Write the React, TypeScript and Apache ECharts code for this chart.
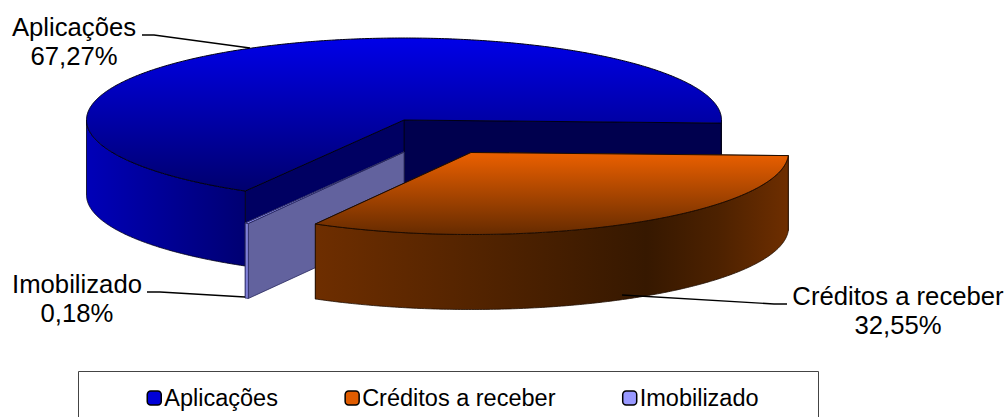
import React, { useEffect, useRef } from "react";
import * as echarts from "echarts";

const categories = ["Aplicações", "Créditos a receber", "Imobilizado"];
const shares = [67.27, 32.55, 0.18];

const FIRST_ANGLE = 120;
const RX = 317.5;
const RY = 82;
const DEPTH = 75;
const FONT = '"Liberation Sans", Arial, sans-serif';

// Drawing geometry and paint, per slice
const centers = [
  { x: 404, y: 120 },
  { x: 471, y: 152.5 },
  { x: 404, y: 152 },
];
const layers = [2, 4, 3];
const v = (c0: string, c1: string) => new echarts.graphic.LinearGradient(0, 0, 0, 1, [
  { offset: 0, color: c0 }, { offset: 1, color: c1 },
]);
const h = (stops: [number, string][]) => new echarts.graphic.LinearGradient(0, 0, 1, 0, stops.map(([offset, color]) => ({ offset, color })));
const paints = [
  {
    top: v("#0000E8", "#00006E"),
    wall: h([[0, "#0000B8"], [1, "#000072"]]),
    startFace: "#000062",
    endFace: "#00004E",
    line: "#000014",
  },
  {
    top: v("#EC6000", "#662B00"),
    wall: h([[0, "#6E2E00"], [0.45, "#4A2000"], [0.7, "#361800"], [0.85, "#4C2100"], [1, "#6E2E00"]]),
    startFace: "#3A1A00",
    endFace: "#3A1A00",
    line: "#1E0C00",
  },
  {
    top: "#9999FF",
    wall: "#8080D8",
    startFace: "#62629E",
    endFace: "#62629E",
    line: "#2A2A60",
  },
];
const legendColors = ["#0000D8", "#E05C00", "#9999FF"];
const labelSpots = [
  { x: 74, y1: 27, y2: 56 },
  { x: 898, y1: 296, y2: 325 },
  { x: 77, y1: 284, y2: 313 },
];
const leaders = [
  [[142, 35], [154, 35], [250, 48]],
  [[787, 304], [774, 304], [622, 295]],
  [[147, 292], [160, 292], [245, 297]],
];

const total = shares.reduce((a, b) => a + b, 0);
const rad = (d: number) => (d * Math.PI) / 180;

function sliceAngles(index: number) {
  let a = FIRST_ANGLE;
  for (let i = 0; i < index; i++) a += (shares[i] / total) * 360;
  return [a, a + (shares[index] / total) * 360];
}

function rim(c: { x: number; y: number }, deg: number, drop = 0) {
  return [c.x + RX * Math.cos(rad(deg)), c.y + RY * Math.sin(rad(deg)) + drop];
}

function arcPoints(c: { x: number; y: number }, a0: number, a1: number, drop = 0) {
  const n = Math.max(2, Math.ceil((a1 - a0) * 2));
  const pts: number[][] = [];
  for (let i = 0; i <= n; i++) pts.push(rim(c, a0 + ((a1 - a0) * i) / n, drop));
  return pts;
}

function makeRenderItem(index: number) {
  return (_params: any, api: any) => {
    const value = api.value(0) as number;
    const [a0, a1] = sliceAngles(index);
    const c = centers[index];
    const p = paints[index];
    const children: any[] = [];
    const poly = (points: number[][], fill: any, lineWidth = 0.8) => ({
      type: "polygon",
      shape: { points },
      style: { fill, stroke: p.line, lineWidth },
    });
    const face = (deg: number, fill: any) => {
      const r = rim(c, deg);
      return poly([[c.x, c.y], r, [r[0], r[1] + DEPTH], [c.x, c.y + DEPTH]], fill);
    };
    children.push(face(a1, p.endFace));
    children.push(face(a0, p.startFace));
    // Outer wall: only where the rim faces the viewer
    const visible: [number, number][] = [];
    for (const k of [0, 360]) {
      const s = Math.max(a0, k);
      const e = Math.min(a1, k + 180);
      if (e > s) visible.push([s, e]);
    }
    for (const [s, e] of visible) {
      const upper = arcPoints(c, s, e);
      const lower = arcPoints(c, s, e, DEPTH).reverse();
      children.push(poly([...upper, ...lower], p.wall));
    }
    children.push(poly([[c.x, c.y], ...arcPoints(c, a0, a1)], p.top, 1));
    children.push({
      type: "polyline",
      shape: { points: leaders[index] },
      style: { fill: "none", stroke: "#000", lineWidth: 1.4 },
    });
    const spot = labelSpots[index];
    const base = {
      x: spot.x,
      font: `25.7px ${FONT}`,
      fill: "#000",
      align: "center",
      verticalAlign: "middle",
    };
    children.push({ type: "text", style: { ...base, y: spot.y1, text: categories[index] } });
    children.push({
      type: "text",
      style: { ...base, y: spot.y2, text: `${value.toFixed(2).replace(".", ",")}%` },
    });
    return { type: "group", children };
  };
}

export default function App() {
  const ref = useRef<HTMLDivElement>(null);
  useEffect(() => {
    document.body.style.margin = "0";
    document.body.style.background = "#fff";
    document.body.style.overflow = "hidden";
    const chart = echarts.init(ref.current!, null, { renderer: "svg" });
    chart.setOption({
      animation: false,
      backgroundColor: "#fff",
      tooltip: { show: false },
      legend: {
        data: categories,
        left: 146.5,
        top: 386,
        padding: 0,
        orient: "horizontal",
        icon: "roundRect",
        itemWidth: 14,
        itemHeight: 14,
        itemGap: 66.5,
        selectedMode: false,
        itemStyle: { borderColor: "#000", borderWidth: 1.5 },
        textStyle: { fontFamily: FONT, fontSize: 23.5, color: "#000", padding: [0, 0, 0, -2] },
      },
      graphic: [
        {
          type: "rect",
          silent: true,
          shape: { x: 78.5, y: 371.5, width: 740, height: 60 },
          style: { fill: "none", stroke: "#444", lineWidth: 1 },
        },
      ],
      series: categories.map((name, i) => ({
        type: "custom",
        name,
        coordinateSystem: "none",
        z: layers[i],
        silent: true,
        itemStyle: { color: legendColors[i] },
        data: [[shares[i]]],
        renderItem: makeRenderItem(i),
      })),
    });
    return () => chart.dispose();
  }, []);
  return <div ref={ref} style={{ width: 1008, height: 417 }} />;
}
